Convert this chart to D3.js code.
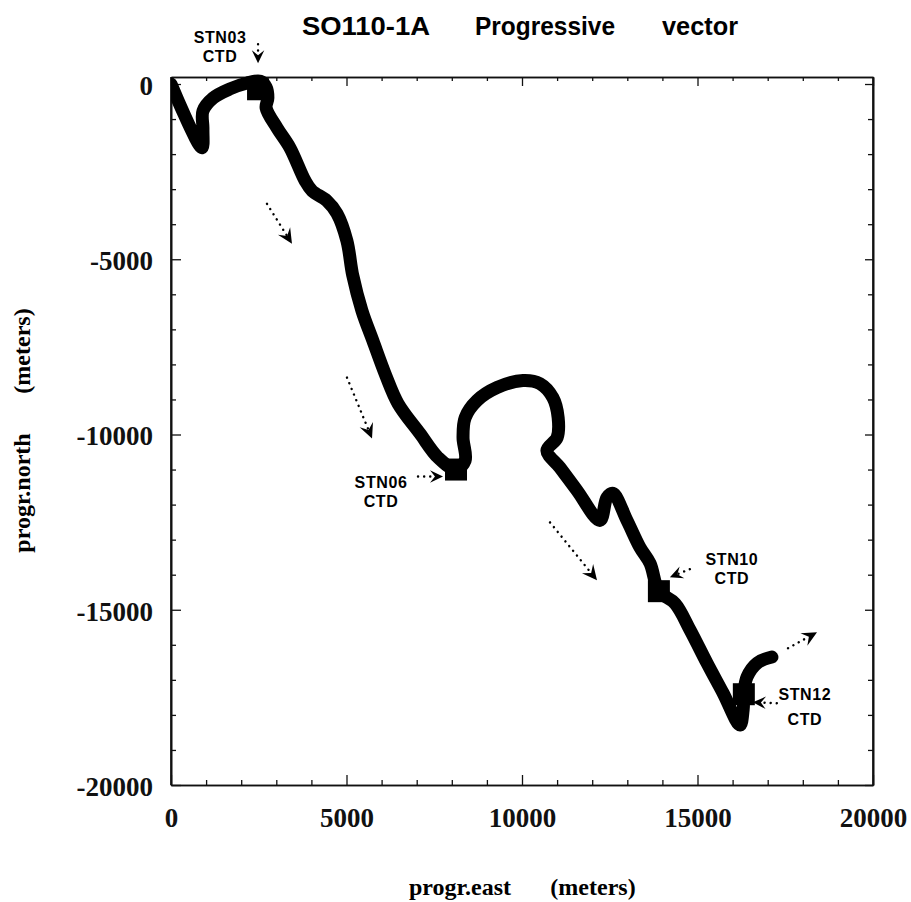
<!DOCTYPE html>
<html>
<head>
<meta charset="utf-8">
<script src="https://cdn.jsdelivr.net/npm/d3@7/dist/d3.min.js"></script>
<style>
  html, body { margin: 0; padding: 0; background: #fff; }
  svg { display: block; }
</style>
</head>
<body>
<svg id="chart" width="911" height="902"></svg>
<script>
// Progressive vector track of mooring SO110-1A (metres east / north of start)
const trackEast = [0, 880, 910, 910, 1200, 1680, 2170, 2540, 2710, 2760, 2710, 3020, 3390, 3820, 4020, 4440, 4730, 5010, 5180, 5440, 5750, 6120, 6470, 7090, 7610, 8120, 8380, 8320, 8380, 8720, 9290, 10030, 10510, 10880, 11030, 11000, 10710, 11080, 11570, 12220, 12420, 12590, 12990, 13360, 13650, 13900, 14360, 14790, 15270, 15730, 16210, 16300, 16320, 16410, 16700, 17120];
const trackNorth = [0, -1820, -1280, -770, -400, -140, 30, 80, -90, -400, -680, -1250, -1820, -2760, -3050, -3330, -3700, -4470, -5470, -6470, -7320, -8320, -9120, -9970, -10660, -11000, -10740, -10090, -9520, -9030, -8660, -8460, -8550, -8950, -9520, -10090, -10460, -10940, -11600, -12450, -11800, -11680, -12450, -13220, -13680, -14470, -14820, -15580, -16520, -17380, -18290, -17860, -17410, -16920, -16520, -16350];

// CTD stations along the track
const stationNames = ["STN03", "STN06", "STN10", "STN12"];
const stationCasts = ["CTD", "CTD", "CTD", "CTD"];
const stationEast = [2480, 8120, 13900, 16320];
const stationNorth = [-150, -11000, -14470, -17410];

// Dotted arrows showing the drift direction
const driftFromEast = [2735, 5014, 10798, 17578];
const driftFromNorth = [-3419, -8376, -12507, -16097];
const driftToEast = [3447, 5727, 12137, 18405];
const driftToNorth = [-4558, -10114, -14159, -15641];

// Axis ticks
const xTickValues = [0, 5000, 10000, 15000, 20000];
const xTickLabels = ["0", "5000", "10000", "15000", "20000"];
const yTickValues = [0, -5000, -10000, -15000, -20000];
const yTickLabels = ["0", "-5000", "-10000", "-15000", "-20000"];
const minorStep = 1000;

const titleWords = ["SO110-1A", "Progressive", "vector"];
const xTitle = ["progr.east", "(meters)"];
const yTitle = ["progr.north", "(meters)"];

// ---- layout ----
const mLeft = 171, mRight = 873, mTop = 77, mBottom = 785;
const svg = d3.select("#chart");

const x = d3.scaleLinear().domain([0, 20000]).range([mLeft, mRight]);
const y = d3.scaleLinear().domain([-20000, 200]).range([mBottom, mTop]);

const serif = "'Liberation Serif', 'Times New Roman', serif";
const sans = "'Liberation Sans', Arial, Helvetica, sans-serif";

// ---- axes (ticks point inward on every side) ----
const minorX = d3.range(0, 20001, minorStep).filter(v => v % 5000 !== 0);
const minorY = d3.range(-20000, 1, minorStep).filter(v => v % 5000 !== 0);

function styleAxis(g) {
  g.selectAll("path.domain").attr("stroke", "#111").attr("stroke-width", 1.6);
  g.selectAll(".tick line").attr("stroke", "#111").attr("stroke-width", 1.3);
}

// bottom
svg.append("g").attr("transform", `translate(0,${mBottom})`)
  .call(d3.axisBottom(x).tickValues(minorX).tickSize(-5).tickSizeOuter(0).tickFormat(""))
  .call(styleAxis);
const gb = svg.append("g").attr("transform", `translate(0,${mBottom})`)
  .call(d3.axisBottom(x).tickValues(xTickValues).tickSize(-10).tickSizeOuter(0).tickPadding(23)
    .tickFormat((d, i) => xTickLabels[i]))
  .call(styleAxis);
gb.selectAll("text").attr("font-family", serif).attr("font-weight", "bold")
  .attr("font-size", 27).attr("fill", "#111");

// top
svg.append("g").attr("transform", `translate(0,${mTop})`)
  .call(d3.axisTop(x).tickValues(minorX).tickSize(-4).tickSizeOuter(0).tickFormat(""))
  .call(styleAxis);
svg.append("g").attr("transform", `translate(0,${mTop})`)
  .call(d3.axisTop(x).tickValues(xTickValues).tickSize(-9).tickSizeOuter(0).tickFormat(""))
  .call(styleAxis);

// left
svg.append("g").attr("transform", `translate(${mLeft},0)`)
  .call(d3.axisLeft(y).tickValues(minorY).tickSize(-5).tickSizeOuter(0).tickFormat(""))
  .call(styleAxis);
const gl = svg.append("g").attr("transform", `translate(${mLeft},0)`)
  .call(d3.axisLeft(y).tickValues(yTickValues).tickSize(-10).tickSizeOuter(0).tickPadding(18)
    .tickFormat((d, i) => yTickLabels[i]))
  .call(styleAxis);
gl.selectAll("text").attr("font-family", serif).attr("font-weight", "bold")
  .attr("font-size", 27).attr("fill", "#111").attr("dy", "0.38em");

// right
svg.append("g").attr("transform", `translate(${mRight},0)`)
  .call(d3.axisRight(y).tickValues(minorY).tickSize(-5).tickSizeOuter(0).tickFormat(""))
  .call(styleAxis);
svg.append("g").attr("transform", `translate(${mRight},0)`)
  .call(d3.axisRight(y).tickValues(yTickValues).tickSize(-8).tickSizeOuter(0).tickFormat(""))
  .call(styleAxis);

// full-height frame sides (the y range reaches slightly above 0)
svg.append("line").attr("x1", mLeft).attr("x2", mLeft).attr("y1", mTop).attr("y2", mBottom)
  .attr("stroke", "#111").attr("stroke-width", 1.6);
svg.append("line").attr("x1", mRight).attr("x2", mRight).attr("y1", mTop).attr("y2", mBottom)
  .attr("stroke", "#111").attr("stroke-width", 1.6);

// ---- track ----
svg.append("clipPath").attr("id", "plotClip")
  .append("rect").attr("x", mLeft).attr("y", mTop - 8).attr("width", mRight - mLeft).attr("height", mBottom - mTop + 8);

const trackPts = trackEast.map((e, i) => [e, trackNorth[i]]);
const line = d3.line().x(d => x(d[0])).y(d => y(d[1])).curve(d3.curveCatmullRom.alpha(0.5));

svg.append("path")
  .attr("clip-path", "url(#plotClip)")
  .attr("d", line(trackPts))
  .attr("fill", "none")
  .attr("stroke", "#000")
  .attr("stroke-width", 13)
  .attr("stroke-linejoin", "round")
  .attr("stroke-linecap", "round");

// station markers
const markerSize = 22;
svg.append("g").selectAll("rect").data(stationNames).join("rect")
  .attr("x", (d, i) => x(stationEast[i]) - markerSize / 2)
  .attr("y", (d, i) => y(stationNorth[i]) - markerSize / 2)
  .attr("width", markerSize).attr("height", markerSize)
  .attr("fill", "#000");

// ---- arrows ----
function chevron(g, tx, ty, angle, len, half) {
  // filled arrowhead with a notched back, tip at (tx,ty)
  const p = [[0, 0], [-len, -half], [-len * 0.62, 0], [-len, half]];
  const c = Math.cos(angle), s = Math.sin(angle);
  const pts = p.map(([a, b]) => [tx + a * c - b * s, ty + a * s + b * c]);
  g.append("path").attr("d", "M" + pts.join("L") + "Z").attr("fill", "#000");
}

function dottedArrow(g, x1, y1, x2, y2, head) {
  const ang = Math.atan2(y2 - y1, x2 - x1);
  const bx = x2 - Math.cos(ang) * head * 0.6, by = y2 - Math.sin(ang) * head * 0.6;
  g.append("line").attr("x1", x1).attr("y1", y1).attr("x2", bx).attr("y2", by)
    .attr("stroke", "#000").attr("stroke-width", 2.4)
    .attr("stroke-dasharray", "0.1,6").attr("stroke-linecap", "round");
  chevron(g, x2, y2, ang, head, head * 0.48);
}

const arrows = svg.append("g");
driftFromEast.forEach((e, i) => {
  dottedArrow(arrows, x(e), y(driftFromNorth[i]), x(driftToEast[i]), y(driftToNorth[i]), 15);
});

// station labels: offsets in pixels from each marker
const labelLayout = [
  { dx: -38, dy: -46, gap: 19, from: [0, -45], to: [0, -26] },
  { dx: -75, dy: 18, gap: 19, from: [-38, 7], to: [-13, 7] },
  { dx: 73, dy: -26, gap: 19, from: [31, -22], to: [11, -14] },
  { dx: 61, dy: 6, gap: 25, from: [33, 9], to: [9, 8] }
];

const labels = svg.append("g").attr("font-family", sans).attr("font-weight", "bold")
  .attr("font-size", 16).attr("fill", "#000").attr("text-anchor", "middle")
  .attr("letter-spacing", 0.6);
stationNames.forEach((name, i) => {
  const sx = x(stationEast[i]), sy = y(stationNorth[i]);
  const L = labelLayout[i];
  labels.append("text").attr("x", sx + L.dx).attr("y", sy + L.dy).text(name);
  labels.append("text").attr("x", sx + L.dx).attr("y", sy + L.dy + L.gap).text(stationCasts[i]);
  dottedArrow(arrows, sx + L.from[0], sy + L.from[1], sx + L.to[0], sy + L.to[1], 13);
});

// ---- titles ----
const titleG = svg.append("g").attr("font-family", sans).attr("font-weight", "bold")
  .attr("font-size", 26).attr("fill", "#000");
const titleX = [302, 475, 662];
const titleW = [128, 140, 76];
titleWords.forEach((w, i) => {
  titleG.append("text").attr("x", titleX[i]).attr("y", 35)
    .attr("textLength", titleW[i]).attr("lengthAdjust", "spacingAndGlyphs").text(w);
});

const axisTitle = svg.append("g").attr("font-family", serif).attr("font-weight", "bold")
  .attr("font-size", 24).attr("fill", "#000");
axisTitle.append("text").attr("x", 460).attr("y", 895).attr("text-anchor", "middle").text(xTitle[0]);
axisTitle.append("text").attr("x", 593).attr("y", 895).attr("text-anchor", "middle").text(xTitle[1]);
axisTitle.append("text").attr("transform", "translate(30,493) rotate(-90)")
  .attr("text-anchor", "middle").text(yTitle[0]);
axisTitle.append("text").attr("transform", "translate(30,351) rotate(-90)")
  .attr("text-anchor", "middle").text(yTitle[1]);
</script>
</body>
</html>
